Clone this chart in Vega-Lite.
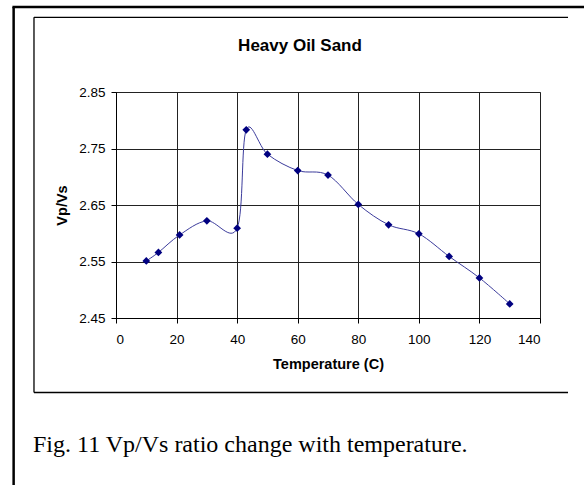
{
  "$schema": "https://vega.github.io/schema/vega-lite/v6.json",
  "autosize": "none",
  "width": 424,
  "height": 226,
  "padding": {"left": 116, "top": 92, "right": 44, "bottom": 167},
  "background": "white",
  "title": {
    "text": "Heavy Oil Sand",
    "anchor": "middle",
    "frame": "group",
    "dx": -28,
    "offset": -62,
    "baseline": "alphabetic",
    "font": "Liberation Sans",
    "fontSize": 17,
    "fontWeight": "bold",
    "color": "#000"
  },
  "config": {
    "view": {"stroke": "#808080", "strokeWidth": 1},
    "axis": {
      "labelFont": "Liberation Sans",
      "labelFontSize": 13.5,
      "labelColor": "#000",
      "titleFont": "Liberation Sans",
      "titleFontSize": 14.5,
      "titleFontWeight": "bold",
      "titleColor": "#000",
      "domainColor": "#000",
      "tickColor": "#000",
      "tickSize": 5,
      "gridColor": "#222",
      "gridWidth": 1,
      "gridOpacity": 1
    }
  },
  "datasets": {
    "points": [
      {"temperature": 10, "ratio": 2.551},
      {"temperature": 14, "ratio": 2.566},
      {"temperature": 21, "ratio": 2.597},
      {"temperature": 30, "ratio": 2.622},
      {"temperature": 40, "ratio": 2.609},
      {"temperature": 43, "ratio": 2.783},
      {"temperature": 50, "ratio": 2.740},
      {"temperature": 60, "ratio": 2.711},
      {"temperature": 70, "ratio": 2.703},
      {"temperature": 80, "ratio": 2.651},
      {"temperature": 90, "ratio": 2.615},
      {"temperature": 100, "ratio": 2.599},
      {"temperature": 110, "ratio": 2.559},
      {"temperature": 120, "ratio": 2.521},
      {"temperature": 130, "ratio": 2.475}
    ],
    "one": [{}]
  },
  "layer": [
    {
      "data": {"name": "points"},
      "mark": {"type": "line", "interpolate": "cardinal", "color": "#3c3c9c", "strokeWidth": 1},
      "encoding": {
        "x": {
          "field": "temperature",
          "type": "quantitative",
          "scale": {"domain": [0, 140], "nice": false, "zero": false},
          "axis": {"title": "Temperature (C)", "values": [0, 20, 40, 60, 80, 100, 120, 140], "labelPadding": 9, "titlePadding": 12, "grid": true}
        },
        "y": {
          "field": "ratio",
          "type": "quantitative",
          "scale": {"domain": [2.45, 2.85], "nice": false, "zero": false},
          "axis": {"title": "Vp/Vs", "values": [2.45, 2.55, 2.65, 2.75, 2.85], "format": ".2f", "labelPadding": 6, "titlePadding": 9, "grid": true}
        }
      }
    },
    {
      "data": {"name": "points"},
      "mark": {"type": "point", "shape": "diamond", "filled": true, "color": "#000080", "size": 60, "opacity": 1},
      "encoding": {
        "x": {"field": "temperature", "type": "quantitative"},
        "y": {"field": "ratio", "type": "quantitative"}
      }
    },
    {
      "data": {"name": "one"},
      "mark": {"type": "rule", "color": "#000", "strokeWidth": 2.5},
      "encoding": {
        "x": {"datum": -33.8, "type": "quantitative"},
        "y": {"datum": 3.0004, "type": "quantitative"},
        "y2": {"datum": 2.0}
      }
    },
    {
      "data": {"name": "one"},
      "mark": {"type": "rule", "color": "#000", "strokeWidth": 2.5},
      "encoding": {
        "x": {"datum": -34.2, "type": "quantitative"},
        "x2": {"datum": 170},
        "y": {"datum": 3.0004, "type": "quantitative"}
      }
    },
    {
      "data": {"name": "one"},
      "mark": {"type": "rule", "color": "#000", "strokeWidth": 1.3},
      "encoding": {
        "x": {"datum": -27.08, "type": "quantitative"},
        "y": {"datum": 2.9822, "type": "quantitative"},
        "y2": {"datum": 2.3181}
      }
    },
    {
      "data": {"name": "one"},
      "mark": {"type": "rule", "color": "#000", "strokeWidth": 1.3},
      "encoding": {
        "x": {"datum": -27.08, "type": "quantitative"},
        "x2": {"datum": 149.25},
        "y": {"datum": 2.9822, "type": "quantitative"}
      }
    },
    {
      "data": {"name": "one"},
      "mark": {"type": "rule", "color": "#000", "strokeWidth": 1.3},
      "encoding": {
        "x": {"datum": -27.08, "type": "quantitative"},
        "x2": {"datum": 149.25},
        "y": {"datum": 2.3181, "type": "quantitative"}
      }
    },
    {
      "data": {"name": "one"},
      "mark": {"type": "text", "text": "Fig. 11 Vp/Vs ratio change with temperature.", "align": "left", "baseline": "alphabetic", "font": "Liberation Serif", "fontSize": 24, "fontWeight": "normal", "color": "#000"},
      "encoding": {
        "x": {"datum": -27.4, "type": "quantitative"},
        "y": {"datum": 2.2128, "type": "quantitative"}
      }
    }
  ]
}
